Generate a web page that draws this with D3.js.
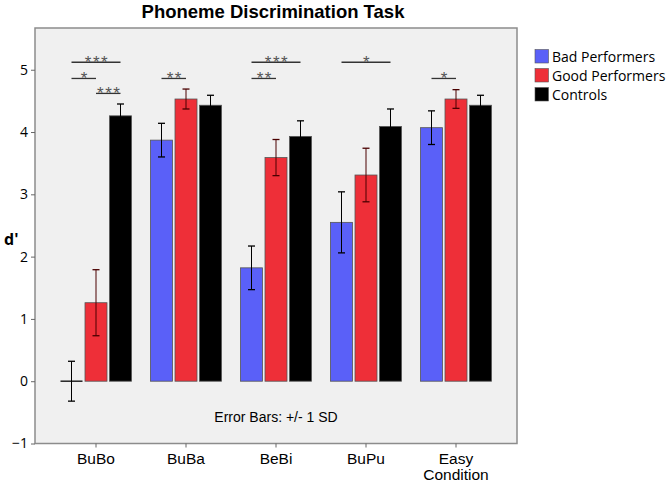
<!DOCTYPE html>
<html><head><meta charset="utf-8">
<script src="https://cdn.jsdelivr.net/npm/d3@7"></script>
<style>body{margin:0;background:#fff}svg{display:block}</style>
</head><body>
<script>
const categories = ["BuBo", "BuBa", "BeBi", "BuPu", "Easy\nCondition"];
const seriesNames = ["Bad Performers", "Good Performers", "Controls"];
const badMeans  = [0.00, 3.87, 1.82, 2.55, 4.07];
const badSD     = [0.32, 0.27, 0.35, 0.49, 0.27];
const goodMeans = [1.26, 4.53, 3.59, 3.31, 4.53];
const goodSD    = [0.53, 0.16, 0.29, 0.43, 0.15];
const ctrlMeans = [4.26, 4.43, 3.93, 4.09, 4.43];
const ctrlSD    = [0.19, 0.16, 0.25, 0.28, 0.16];
const yTicks = [-1, 0, 1, 2, 3, 4, 5];
// significance: category index, from series, to series, level, label
const sigCat   = [0, 0, 0, 1, 2, 2, 3, 4];
const sigFrom  = [0, 0, 1, 0, 0, 0, 0, 0];
const sigTo    = [2, 1, 2, 1, 2, 1, 2, 1];
const sigY     = [5.12, 4.86, 4.62, 4.86, 5.12, 4.86, 5.12, 4.86];
const sigLabel = ["***", "*", "***", "**", "***", "**", "*", "*"];

const colors = ["#5a60f8", "#ee2f38", "#000000"];
const W = 672, H = 484;
const svg = d3.select("body").append("svg").attr("width", W).attr("height", H);
const frame = {l: 35, t: 28, r: 517, b: 443.5};

const y = d3.scaleLinear().domain([-1, 5.67]).range([frame.b, frame.t]);
const x = d3.scaleBand().domain(categories).range([frame.l + 16, frame.r - 16]);
const barW = 22, barGap = 2.5;
const sub = d3.scaleBand().domain([0,1,2]).range([-(barW*1.5+barGap), barW*1.5+barGap]).paddingInner(barGap/(barW+barGap));

svg.append("rect").attr("x", frame.l).attr("y", frame.t)
  .attr("width", frame.r - frame.l).attr("height", frame.b - frame.t)
  .attr("fill", "#f0f0f0").attr("stroke", "#8c8c8c").attr("stroke-width", 1.5);

// title
svg.append("text").attr("x", 273).attr("y", 18).attr("text-anchor", "middle")
  .attr("font-family", "Arial, 'Liberation Sans', sans-serif").attr("font-weight", "bold")
  .attr("font-size", 18.5).text("Phoneme Discrimination Task");

// y axis
const yAxis = svg.append("g").attr("transform", `translate(${frame.l},0)`)
  .call(d3.axisLeft(y).tickValues(yTicks).tickSize(4).tickPadding(3).tickFormat(d3.format("d")));
yAxis.select(".domain").remove();
yAxis.selectAll("line").attr("stroke", "#666");
yAxis.selectAll("text").attr("font-family", "'Open Sans', 'Noto Sans', sans-serif").attr("font-size", 14).attr("fill", "#000");

svg.append("text").attr("x", 4).attr("y", 245).attr("font-family", "'Open Sans', sans-serif")
  .attr("font-weight", "bold").attr("font-size", 16).text("d'");

// x axis
const xAxis = svg.append("g").attr("transform", `translate(0,${frame.b})`)
  .call(d3.axisBottom(x).tickSize(4).tickFormat(""));
xAxis.select(".domain").remove();
xAxis.selectAll("line").attr("stroke", "#666");
categories.forEach(c => {
  const lines = c.split("\n");
  const t = svg.append("text").attr("text-anchor", "middle")
    .attr("font-family", "Arial, 'Liberation Sans', sans-serif").attr("font-size", 15.5);
  lines.forEach((ln, i) => {
    t.append("tspan").attr("x", x(c) + x.bandwidth()/2).attr("y", 464 + i*15.5).text(ln);
  });
});

// bars
const means = [badMeans, goodMeans, ctrlMeans];
const sds = [badSD, goodSD, ctrlSD];
const data = [];
categories.forEach((c, ci) => seriesNames.forEach((s, si) => {
  data.push({c, ci, si, m: means[si][ci], sd: sds[si][ci]});
}));
const cx = d => x(d.c) + x.bandwidth()/2 + sub(d.si);
svg.append("g").selectAll("rect").data(data.filter(d => d.m !== 0)).join("rect")
  .attr("x", cx).attr("width", sub.bandwidth())
  .attr("y", d => y(Math.max(0, d.m))).attr("height", d => Math.abs(y(d.m) - y(0)))
  .attr("fill", d => colors[d.si]).attr("stroke", "#555").attr("stroke-width", 0.8);
// zero-height bars as line
svg.append("g").selectAll("line").data(data.filter(d => d.m === 0)).join("line")
  .attr("x1", cx).attr("x2", d => cx(d) + sub.bandwidth())
  .attr("y1", d => y(d.m)).attr("y2", d => y(d.m)).attr("stroke", "#222").attr("stroke-width", 1.5);

// error bars
const eb = svg.append("g").selectAll("g").data(data).join("g")
  .attr("stroke", d => d.si === 1 ? "#4a0000" : "#000").attr("stroke-width", 1);
eb.append("line").attr("x1", d => cx(d) + sub.bandwidth()/2).attr("x2", d => cx(d) + sub.bandwidth()/2)
  .attr("y1", d => y(d.m + d.sd)).attr("y2", d => y(d.m - d.sd));
[1, -1].forEach(s => {
  eb.append("line").attr("x1", d => cx(d) + sub.bandwidth()/2 - 3.5).attr("x2", d => cx(d) + sub.bandwidth()/2 + 3.5)
    .attr("y1", d => y(d.m + s*d.sd)).attr("y2", d => y(d.m + s*d.sd)).attr("stroke-width", 1.3);
});

// significance
const sigG = svg.append("g");
sigCat.forEach((ci, i) => {
  const c = categories[ci];
  const x1 = x(c) + x.bandwidth()/2 + sub(sigFrom[i]) + sub.bandwidth()/2;
  const x2 = x(c) + x.bandwidth()/2 + sub(sigTo[i]) + sub.bandwidth()/2;
  sigG.append("line").attr("x1", x1).attr("x2", x2).attr("y1", y(sigY[i])).attr("y2", y(sigY[i]))
    .attr("stroke", "#333").attr("stroke-width", 1.3);
  sigG.append("text").attr("x", (x1 + x2)/2 + 1).attr("y", y(sigY[i]) + 5.5).attr("text-anchor", "middle")
    .attr("font-family", "Arial, sans-serif").attr("font-size", 17).attr("fill", "#555")
    .attr("letter-spacing", 1.5).text(sigLabel[i]);
});

svg.append("text").attr("x", 276).attr("y", 422).attr("text-anchor", "middle")
  .attr("font-family", "Arial, 'Liberation Sans', sans-serif").attr("font-size", 14).text("Error Bars: +/- 1 SD");

// legend
const lg = svg.append("g").selectAll("g").data(seriesNames).join("g")
  .attr("transform", (d, i) => `translate(535,${49.5 + i*19})`);
lg.append("rect").attr("width", 13.5).attr("height", 13.5).attr("fill", (d, i) => colors[i])
  .attr("stroke", "#555").attr("stroke-width", 0.6);
lg.append("text").attr("x", 17).attr("y", 12).attr("font-family", "'Open Sans', 'Noto Sans', sans-serif")
  .attr("font-size", 14).text(d => d);
</script>
</body></html>
